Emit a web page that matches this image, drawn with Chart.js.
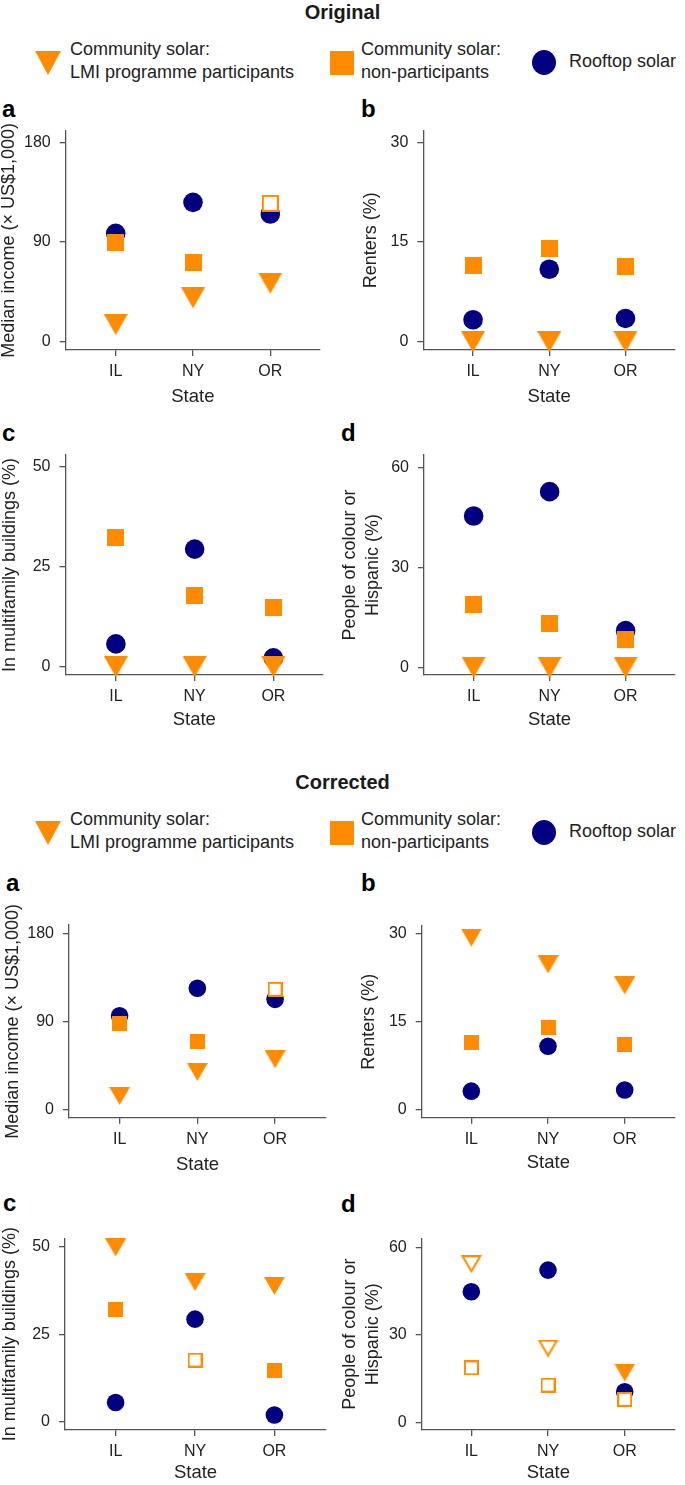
<!DOCTYPE html>
<html><head><meta charset="utf-8">
<script src="https://cdn.jsdelivr.net/npm/chart.js@4.4.1/dist/chart.umd.min.js"></script>
<style>
html,body{margin:0;padding:0;background:#fff;}
body{width:685px;height:1485px;position:relative;overflow:hidden;font-family:"Liberation Sans",Arial,sans-serif;color:#1a1a1a;}
.abs{position:absolute;white-space:nowrap;}
.ttl{font-weight:bold;font-size:20px;line-height:24px;width:685px;text-align:center;left:0;}
.lt{font-size:18px;line-height:23px;color:#222;}
.let{font-weight:bold;font-size:24px;line-height:24px;color:#000;}
.tri{width:0;height:0;border-left:13px solid transparent;border-right:13px solid transparent;border-top:24px solid #FF8C00;}
.sq{width:24px;height:24px;background:#FF8C00;}
.ci{width:24px;height:25px;border-radius:50%;background:#000080;}
canvas{position:absolute;}
</style></head><body>

<div class="abs ttl" style="top:0px">Original</div>
<div class="abs tri" style="left:35px;top:51px"></div>
<div class="abs lt" style="left:70px;top:38px">Community solar:<br>LMI programme participants</div>
<div class="abs sq" style="left:330px;top:51px"></div>
<div class="abs lt" style="left:361px;top:38px">Community solar:<br>non-participants</div>
<div class="abs ci" style="left:532px;top:50px"></div>
<div class="abs lt" style="left:569px;top:50px">Rooftop solar</div>

<div class="abs ttl" style="top:770px">Corrected</div>
<div class="abs tri" style="left:35px;top:821px"></div>
<div class="abs lt" style="left:70px;top:808px">Community solar:<br>LMI programme participants</div>
<div class="abs sq" style="left:330px;top:821px"></div>
<div class="abs lt" style="left:361px;top:808px">Community solar:<br>non-participants</div>
<div class="abs ci" style="left:532px;top:820px"></div>
<div class="abs lt" style="left:569px;top:820px">Rooftop solar</div>

<div class="abs let" style="left:2px;top:97px">a</div>
<div class="abs let" style="left:361px;top:97px">b</div>
<div class="abs let" style="left:2px;top:421px">c</div>
<div class="abs let" style="left:341px;top:421px">d</div>
<div class="abs let" style="left:6px;top:871px">a</div>
<div class="abs let" style="left:361px;top:871px">b</div>
<div class="abs let" style="left:3px;top:1191px">c</div>
<div class="abs let" style="left:341px;top:1192px">d</div>

<script>
// ---------- data ----------
const states = ['IL', 'NY', 'OR'];

const incomeTicks = [0, 90, 180];
const rentersTicks = [0, 15, 30];
const multifamilyTicks = [0, 25, 50];
const pocTicks = [0, 30, 60];

// Original
const origIncomeLMI = [15.5, 39.6, 52.8];
const origIncomeNon = [89.7, 71.7, 124.9];
const origIncomeRoof = [97.8, 125.8, 115.3];
const origIncomeNonHollow = [false, false, true];

const origRentersLMI = [0, 0, 0];
const origRentersNon = [11.4, 14.05, 11.3];
const origRentersRoof = [3.3, 10.9, 3.5];

const origMultiLMI = [0, 0, 0];
const origMultiNon = [32.3, 17.75, 14.7];
const origMultiRoof = [5.7, 29.4, 2.2];

const origPocLMI = [0, 0, 0];
const origPocNon = [19, 13.2, 8.4];
const origPocRoof = [45.4, 52.7, 11];

// Corrected
const corrIncomeLMI = [13.8, 38.4, 51.4];
const corrIncomeNon = [88.3, 70.1, 123.2];
const corrIncomeRoof = [96.1, 124.2, 112.9];
const corrIncomeNonHollow = [false, false, true];

const corrRentersLMI = [29.4, 24.8, 21.2];
const corrRentersNon = [11.4, 14, 11.1];
const corrRentersRoof = [3.1, 10.8, 3.3];

const corrMultiLMI = [49.8, 39.9, 38.8];
const corrMultiNon = [32.1, 17.6, 14.6];
const corrMultiRoof = [5.5, 29.3, 1.9];
const corrMultiNonHollow = [false, true, false];

const corrPocLMI = [54.2, 25.3, 17.1];
const corrPocNon = [18.7, 12.8, 7.9];
const corrPocRoof = [44.8, 52.2, 10.5];
const corrPocLMIHollow = [true, true, false];
const corrPocNonHollow = [true, true, true];

const incomeTitle = 'Median income (× US$1,000)';
const rentersTitle = 'Renters (%)';
const multiTitle = 'In multifamily buildings (%)';
const pocTitle = ['People of colour or', 'Hispanic (%)'];

// ---------- styling ----------
const ORANGE = '#FF8C00', NAVY = '#000080', AXIS = '#555', TXT = '#222';
const FONT = '"Liberation Sans", Arial, sans-serif';

function triCanvas(w, h, hollow) {
  const c = document.createElement('canvas');
  c.width = w; c.height = h;
  const g = c.getContext('2d');
  g.beginPath();
  if (hollow) {
    g.moveTo(1.73, 1); g.lineTo(w - 1.73, 1); g.lineTo(w / 2, h - 2); g.closePath();
    g.fillStyle = '#fff'; g.fill();
    g.lineWidth = 2; g.strokeStyle = ORANGE; g.lineJoin = 'miter'; g.stroke();
  } else {
    g.moveTo(0, 0); g.lineTo(w, 0); g.lineTo(w / 2, h); g.closePath();
    g.fillStyle = ORANGE; g.fill();
  }
  return c;
}
function sqCanvas(s, hollow) {
  const c = document.createElement('canvas');
  c.width = s; c.height = s;
  const g = c.getContext('2d');
  if (hollow) {
    g.fillStyle = '#fff'; g.fillRect(0, 0, s, s);
    g.lineWidth = 2; g.strokeStyle = ORANGE; g.strokeRect(1, 1, s - 2, s - 2);
  } else {
    g.fillStyle = ORANGE; g.fillRect(0, 0, s, s);
  }
  return c;
}

const MARK_O = {tri: [24, 21], sq: 17, circ: 9.8};
const MARK_C = {tri: [21, 18], sq: 15, circ: 8.8};

function panel(L, M, D) {
  const TITLE_FS = 18, TITLE_LH = 1.3, X_LH = 1.2;
  const cx0 = Math.round(L.titleX - TITLE_FS * TITLE_LH / 2);
  const cy0 = Math.round(L.t - 30);
  const cx1 = Math.min(Math.round(L.r + 8), 685);
  const cy1 = Math.round(L.stateY + TITLE_FS * X_LH / 2);
  const W = cx1 - cx0, H = cy1 - cy0;
  const cv = document.createElement('canvas');
  cv.width = W; cv.height = H;
  cv.style.left = cx0 + 'px'; cv.style.top = cy0 + 'px';
  cv.style.width = W + 'px'; cv.style.height = H + 'px';
  document.body.appendChild(cv);

  const triF = triCanvas(M.tri[0], M.tri[1], false), triH = triCanvas(M.tri[0], M.tri[1], true);
  const sqF = sqCanvas(M.sq, false), sqH = sqCanvas(M.sq, true);
  const pts = arr => arr.map((v, i) => ({x: i + 1, y: v}));
  const lmiH = D.lmiHollow || [false, false, false];
  const nonH = D.nonHollow || [false, false, false];

  new Chart(cv, {
    type: 'scatter',
    data: {datasets: [
      {data: pts(D.lmi), pointStyle: lmiH.map(h => h ? triH : triF), pointRadius: 10, borderWidth: 0, clip: false},
      {data: pts(D.non), pointStyle: nonH.map(h => h ? sqH : sqF), pointRadius: 10, borderWidth: 0, clip: false},
      {data: pts(D.roof), pointStyle: 'circle', pointRadius: M.circ, backgroundColor: NAVY, borderColor: NAVY, borderWidth: 0, clip: false}
    ]},
    options: {
      responsive: false, animation: false, events: [],
      devicePixelRatio: 1,
      layout: {padding: {left: 0, top: L.t - cy0, right: cx1 - L.r, bottom: 0}},
      plugins: {legend: {display: false}, tooltip: {enabled: false}},
      scales: {
        x: {
          type: 'linear', min: L.xMin, max: L.xMax,
          afterBuildTicks: s => { s.ticks = states.map((_, i) => ({value: i + 1})); },
          afterFit: s => { s.height = cy1 - L.b; },
          ticks: {callback: v => states[Math.round(v) - 1] || '', font: {family: FONT, size: 16}, color: TXT, padding: 6, maxRotation: 0, autoSkip: false},
          grid: {display: true, drawOnChartArea: false, drawTicks: true, tickLength: 6, color: AXIS, lineWidth: 1.3},
          border: {display: true, color: AXIS, width: 1.3},
          title: {display: true, text: 'State', font: {family: FONT, size: 18.5, lineHeight: X_LH}, color: TXT, padding: 0}
        },
        y: {
          type: 'linear', min: L.yMin, max: L.yMax,
          afterBuildTicks: s => { s.ticks = D.yTicks.map(v => ({value: v})); },
          afterFit: s => { s.width = L.l - cx0; },
          ticks: {callback: v => String(v), font: {family: FONT, size: 16}, color: TXT, padding: 9, autoSkip: false},
          grid: {display: true, drawOnChartArea: false, drawTicks: true, tickLength: 6, color: AXIS, lineWidth: 1.3},
          border: {display: true, color: AXIS, width: 1.3},
          title: {display: true, text: D.yTitle, font: {family: FONT, size: TITLE_FS, lineHeight: TITLE_LH}, color: TXT, padding: 0}
        }
      }
    }
  });
}

// ---------- layout ----------
panel({l: 65.7, r: 321.7, t: 130.7, b: 350, titleX: 8.3, stateY: 396.7, xMin: 0.353, xMax: 3.643, yMin: -7.5, yMax: 190.5}, MARK_O,
  {lmi: origIncomeLMI, non: origIncomeNon, roof: origIncomeRoof, nonHollow: origIncomeNonHollow, yTicks: incomeTicks, yTitle: incomeTitle});
panel({l: 423.3, r: 685, t: 130.7, b: 350, titleX: 370.5, stateY: 396.7, xMin: 0.347, xMax: 3.65, yMin: -1.25, yMax: 31.75}, MARK_O,
  {lmi: origRentersLMI, non: origRentersNon, roof: origRentersRoof, yTicks: rentersTicks, yTitle: rentersTitle});
panel({l: 65.5, r: 325, t: 455, b: 675, titleX: 10, stateY: 720, xMin: 0.36, xMax: 3.63, yMin: -2.075, yMax: 52.925}, MARK_O,
  {lmi: origMultiLMI, non: origMultiNon, roof: origMultiRoof, yTicks: multifamilyTicks, yTitle: multiTitle});
panel({l: 424, r: 685, t: 455, b: 675, titleX: 350, stateY: 720, xMin: 0.347, xMax: 3.65, yMin: -2.3, yMax: 63.7}, MARK_O,
  {lmi: origPocLMI, non: origPocNon, roof: origPocRoof, yTicks: pocTicks, yTitle: pocTitle});

panel({l: 69, r: 328, t: 925, b: 1117.7, titleX: 13, stateY: 1165, xMin: 0.349, xMax: 3.655, yMin: -8.6, yMax: 189.2}, MARK_C,
  {lmi: corrIncomeLMI, non: corrIncomeNon, roof: corrIncomeRoof, nonHollow: corrIncomeNonHollow, yTicks: incomeTicks, yTitle: incomeTitle});
panel({l: 421.7, r: 685, t: 926, b: 1117.7, titleX: 369, stateY: 1163.3, xMin: 0.353, xMax: 3.656, yMin: -1.44, yMax: 31.37}, MARK_C,
  {lmi: corrRentersLMI, non: corrRentersNon, roof: corrRentersRoof, yTicks: rentersTicks, yTitle: rentersTitle});
panel({l: 65, r: 328, t: 1238.3, b: 1430, titleX: 10, stateY: 1473, xMin: 0.3625, xMax: 3.65, yMin: -2.37, yMax: 52.4}, MARK_C,
  {lmi: corrMultiLMI, non: corrMultiNon, roof: corrMultiRoof, nonHollow: corrMultiNonHollow, yTicks: multifamilyTicks, yTitle: multiTitle});
panel({l: 421.7, r: 685, t: 1238.3, b: 1430, titleX: 350, stateY: 1473.3, xMin: 0.353, xMax: 3.656, yMin: -2.6, yMax: 63.1}, MARK_C,
  {lmi: corrPocLMI, non: corrPocNon, roof: corrPocRoof, lmiHollow: corrPocLMIHollow, nonHollow: corrPocNonHollow, yTicks: pocTicks, yTitle: pocTitle});
</script>
</body></html>
